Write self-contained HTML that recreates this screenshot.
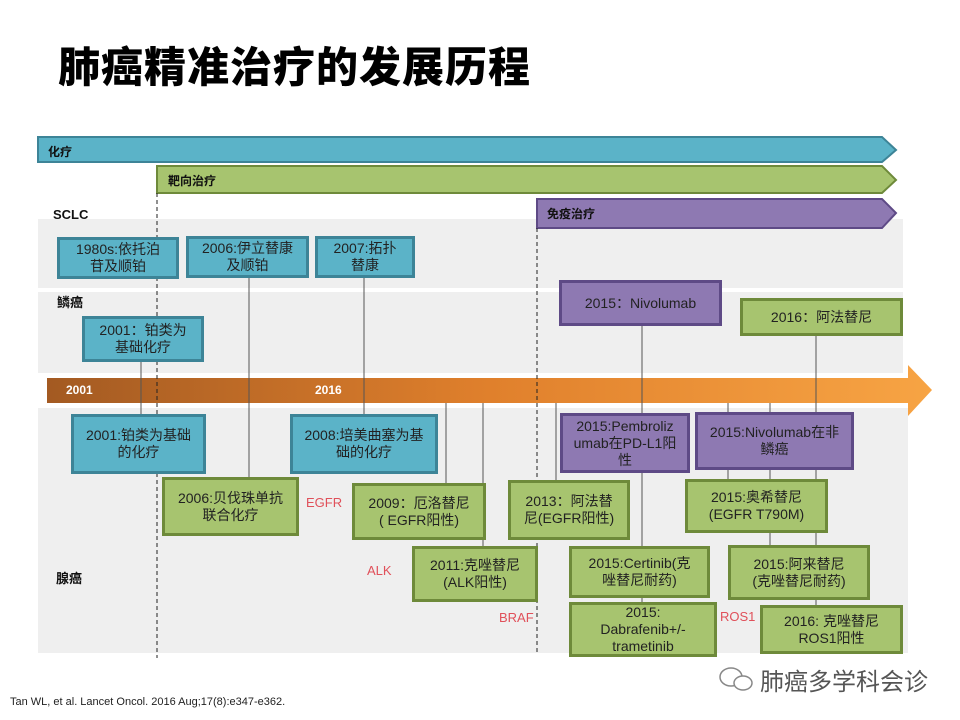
<!DOCTYPE html>
<html><head><meta charset="utf-8"><style>
*{margin:0;padding:0;box-sizing:border-box}
body{width:960px;height:720px;background:#fff;position:relative;overflow:hidden;font-family:"Liberation Sans","Noto Sans CJK SC",sans-serif}
.a{position:absolute}
.b{position:absolute;display:flex;align-items:center;justify-content:center;text-align:center;font-size:14px;line-height:17px;color:#222;border:3px solid}
.bl{background:#5BB3C8;border-color:#3D8497}
.gr{background:#A7C46F;border-color:#6E8A3A}
.pu{background:#8E79B2;border-color:#5E4A86}
.red{position:absolute;color:#E0505A;font-size:13px}
.lab{position:absolute;font-weight:bold;font-size:13px;color:#111}
</style></head><body>
<div class="a" style="left:58px;top:34px;font-size:42px;font-weight:900;letter-spacing:1px;color:#000;font-family:'Noto Sans CJK SC',sans-serif">肺癌精准治疗的发展历程</div>

<div class="a" style="left:38px;top:219px;width:865px;height:69px;background:#EFEFEF"></div>
<div class="a" style="left:38px;top:292px;width:865px;height:81px;background:#EFEFEF"></div>
<div class="a" style="left:38px;top:408px;width:870px;height:245px;background:#EFEFEF"></div>

<svg class="a" style="left:0;top:0" width="960" height="720">
<defs><linearGradient id="g" x1="0" x2="1"><stop offset="0" stop-color="#A35A22"/><stop offset="0.5" stop-color="#E0802C"/><stop offset="1" stop-color="#F7A444"/></linearGradient></defs>
<polygon points="38,137 882,137 896,150 882,162 38,162" fill="#5BB3C8" stroke="#3D8497" stroke-width="2"/>
<polygon points="157,166 882,166 896,180 882,193 157,193" fill="#A7C46F" stroke="#6E8A3A" stroke-width="2"/>
<polygon points="537,199 882,199 896,213 882,228 537,228" fill="#8E79B2" stroke="#5E4A86" stroke-width="2"/>
<polygon points="47,378 908,378 908,365 932,390 908,416 908,403 47,403" fill="url(#g)"/>
<g stroke="#555" stroke-width="1">
<line x1="141" y1="362" x2="141" y2="414"/><line x1="249" y1="278" x2="249" y2="477"/>
<line x1="364" y1="278" x2="364" y2="414"/><line x1="446" y1="403" x2="446" y2="483"/>
<line x1="483" y1="403" x2="483" y2="546"/><line x1="556" y1="403" x2="556" y2="480"/>
<line x1="642" y1="326" x2="642" y2="602"/><line x1="728" y1="403" x2="728" y2="479"/>
<line x1="770" y1="403" x2="770" y2="545"/><line x1="816" y1="336" x2="816" y2="605"/>
</g>
<g stroke="#222" stroke-width="1" stroke-dasharray="4,3">
<line x1="157" y1="193" x2="157" y2="658"/><line x1="537" y1="228" x2="537" y2="655"/>
</g>
</svg>
<div class="lab" style="left:48px;top:143px;font-size:12px">化疗</div>
<div class="lab" style="left:168px;top:172px;font-size:12px">靶向治疗</div>
<div class="lab" style="left:547px;top:205px;font-size:12px">免疫治疗</div>
<div class="lab" style="left:53px;top:207px">SCLC</div>
<div class="lab" style="left:57px;top:292px">鳞癌</div>
<div class="lab" style="left:56px;top:568px">腺癌</div>
<div class="a" style="left:66px;top:383px;color:#fff;font-weight:bold;font-size:12px">2001</div>
<div class="a" style="left:315px;top:383px;color:#fff;font-weight:bold;font-size:12px">2016</div>

<div class="b bl" style="left:57px;top:237px;width:122px;height:42px">1980s:依托泊<br>苷及顺铂</div>
<div class="b bl" style="left:186px;top:236px;width:123px;height:42px">2006:伊立替康<br>及顺铂</div>
<div class="b bl" style="left:315px;top:236px;width:100px;height:42px">2007:拓扑<br>替康</div>
<div class="b bl" style="left:82px;top:316px;width:122px;height:46px">2001：铂类为<br>基础化疗</div>
<div class="b pu" style="left:559px;top:280px;width:163px;height:46px">2015：Nivolumab</div>
<div class="b gr" style="left:740px;top:298px;width:163px;height:38px">2016：阿法替尼</div>

<div class="b bl" style="left:71px;top:414px;width:135px;height:60px">2001:铂类为基础<br>的化疗</div>
<div class="b bl" style="left:290px;top:414px;width:148px;height:60px">2008:培美曲塞为基<br>础的化疗</div>
<div class="b gr" style="left:162px;top:477px;width:137px;height:59px">2006:贝伐珠单抗<br>联合化疗</div>
<div class="red" style="left:306px;top:495px">EGFR</div>
<div class="b gr" style="left:352px;top:483px;width:134px;height:57px">2009：厄洛替尼<br>( EGFR阳性)</div>
<div class="red" style="left:367px;top:563px">ALK</div>
<div class="b gr" style="left:412px;top:546px;width:126px;height:56px">2011:克唑替尼<br>(ALK阳性)</div>
<div class="red" style="left:499px;top:610px">BRAF</div>
<div class="b pu" style="left:560px;top:413px;width:130px;height:60px">2015:Pembroliz<br>umab在PD-L1阳<br>性</div>
<div class="b pu" style="left:695px;top:412px;width:159px;height:58px">2015:Nivolumab在非<br>鳞癌</div>
<div class="b gr" style="left:508px;top:480px;width:122px;height:60px">2013：阿法替<br>尼(EGFR阳性)</div>
<div class="b gr" style="left:685px;top:479px;width:143px;height:54px">2015:奥希替尼<br>(EGFR T790M)</div>
<div class="b gr" style="left:569px;top:546px;width:141px;height:52px">2015:Certinib(克<br>唑替尼耐药)</div>
<div class="b gr" style="left:728px;top:545px;width:142px;height:55px">2015:阿来替尼<br>(克唑替尼耐药)</div>
<div class="b gr" style="left:569px;top:602px;width:148px;height:55px">2015:<br>Dabrafenib+/-<br>trametinib</div>
<div class="red" style="left:720px;top:609px">ROS1</div>
<div class="b gr" style="left:760px;top:605px;width:143px;height:49px">2016: 克唑替尼<br>ROS1阳性</div>

<div class="a" style="left:10px;top:696px;font-size:11px;color:#222">Tan WL, et al. Lancet Oncol. 2016 Aug;17(8):e347-e362.</div>
<svg class="a" style="left:717px;top:664px" width="40" height="30"><ellipse cx="14" cy="13" rx="11" ry="9" fill="none" stroke="#888" stroke-width="1.5"/><ellipse cx="26" cy="19" rx="9" ry="7" fill="#fff" stroke="#888" stroke-width="1.5"/></svg>
<div class="a" style="left:760px;top:662px;font-size:24px;color:#555">肺癌多学科会诊</div>
</body></html>
